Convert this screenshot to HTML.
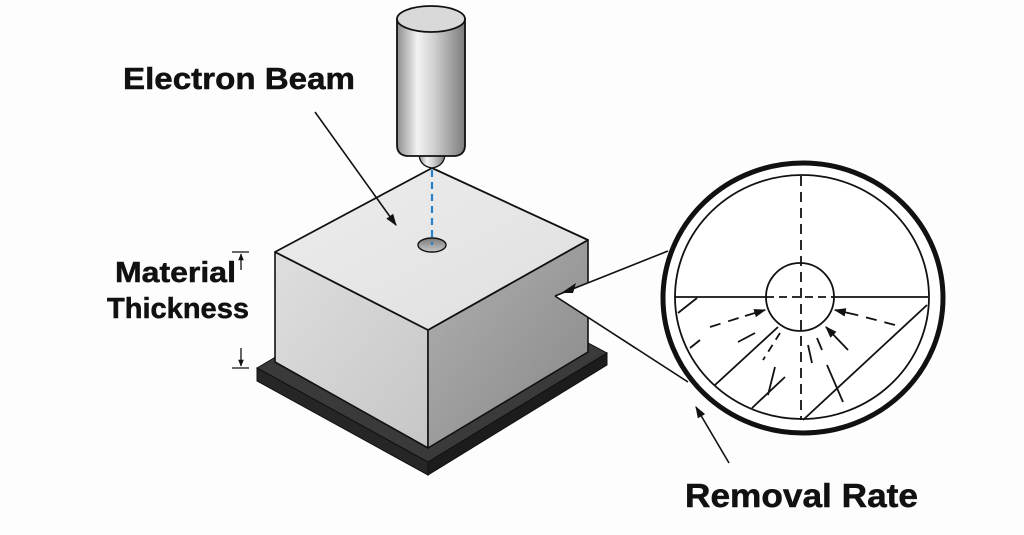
<!DOCTYPE html>
<html><head><meta charset="utf-8"><style>
html,body{margin:0;padding:0;background:#fdfdfd;}
svg{display:block;}
text{font-family:"Liberation Sans",Arial,sans-serif;font-weight:bold;fill:#111;stroke:#111;stroke-width:0.5;}
</style></head><body>
<svg width="1024" height="535" viewBox="0 0 1024 535" xmlns="http://www.w3.org/2000/svg">
<defs>
<linearGradient id="cyl" x1="0" x2="1" y1="0" y2="0">
<stop offset="0" stop-color="#8e8e8e"/><stop offset="0.3" stop-color="#f2f2f2"/><stop offset="0.55" stop-color="#cfcfcf"/><stop offset="1" stop-color="#7c7c7c"/>
</linearGradient>
<linearGradient id="lf" x1="0" x2="1" y1="0" y2="1">
<stop offset="0" stop-color="#dedede"/><stop offset="1" stop-color="#c6c6c6"/>
</linearGradient>
<linearGradient id="rf" x1="0" x2="1" y1="0" y2="1">
<stop offset="0" stop-color="#b0b0b0"/><stop offset="1" stop-color="#888888"/>
</linearGradient>
<linearGradient id="tf" x1="0" x2="1" y1="0" y2="1">
<stop offset="0" stop-color="#ededed"/><stop offset="1" stop-color="#dfdfdf"/>
</linearGradient>
<linearGradient id="hole" x1="0" x2="0" y1="0" y2="1">
<stop offset="0" stop-color="#7a7a7a"/><stop offset="1" stop-color="#c8c8c8"/>
</linearGradient>
<marker id="ah" viewBox="0 0 10 10" refX="9" refY="5" markerWidth="7" markerHeight="7" orient="auto" markerUnits="userSpaceOnUse">
<path d="M0,1 L10,5 L0,9 Z" fill="#111"/>
</marker>
<marker id="ah2" viewBox="0 0 10 10" refX="9" refY="5" markerWidth="12" markerHeight="12" orient="auto" markerUnits="userSpaceOnUse">
<path d="M0,1.5 L10,5 L0,8.5 Z" fill="#111"/>
</marker>
</defs>

<!-- Labels -->
<text x="123" y="89" font-size="31" textLength="232" lengthAdjust="spacingAndGlyphs">Electron Beam</text>
<text x="115" y="282" font-size="29" textLength="121" lengthAdjust="spacingAndGlyphs">Material</text>
<text x="107" y="318" font-size="29" textLength="142" lengthAdjust="spacingAndGlyphs">Thickness</text>
<text x="685" y="507" font-size="33" textLength="233" lengthAdjust="spacingAndGlyphs">Removal Rate</text>

<!-- dimension marks -->
<line x1="232" y1="252" x2="249" y2="252" stroke="#111" stroke-width="1.3"/>
<line x1="241" y1="270" x2="241" y2="254" stroke="#111" stroke-width="1.3" marker-end="url(#ah)"/>
<line x1="241" y1="348" x2="241" y2="366" stroke="#111" stroke-width="1.3" marker-end="url(#ah)"/>
<line x1="232" y1="368" x2="249" y2="368" stroke="#111" stroke-width="1.3"/>

<!-- Plate -->
<polygon points="257,368 436,262 607,353 428,462" fill="#3a3a3a" stroke="#111" stroke-width="1"/>
<polygon points="257,368 428,462 428,475 257,381" fill="#262626" stroke="#111" stroke-width="1"/>
<polygon points="428,462 607,353 607,365 428,475" fill="#1c1c1c" stroke="#111" stroke-width="1"/>

<!-- Block -->
<polygon points="275,252 428,330 428,448 275,362" fill="url(#lf)" stroke="#111" stroke-width="1.6" stroke-linejoin="round"/>
<polygon points="428,330 588,240 588,352 428,448" fill="url(#rf)" stroke="#111" stroke-width="1.6" stroke-linejoin="round"/>
<polygon points="432,168 588,240 428,330 275,252" fill="url(#tf)" stroke="#111" stroke-width="1.8" stroke-linejoin="round"/>

<!-- hole -->
<ellipse cx="432" cy="245" rx="14" ry="7" fill="url(#hole)" stroke="#111" stroke-width="1.4"/>

<!-- beam -->
<line x1="432" y1="170" x2="432" y2="245" stroke="#2a7fc9" stroke-width="2.2" stroke-dasharray="7,5"/>

<!-- Cylinder -->
<path d="M419,153 Q419,166 432,168 Q445,166 445,153 Z" fill="url(#cyl)" stroke="#111" stroke-width="1.3"/>
<path d="M397,19 L397,145 Q397,155 407,156 L455,156 Q465,155 465,145 L465,19 Z" fill="url(#cyl)" stroke="#111" stroke-width="1.8"/>
<ellipse cx="431" cy="19" rx="34" ry="13" fill="#d9d9d9" stroke="#111" stroke-width="1.8"/>

<!-- Electron beam leader -->
<line x1="315" y1="112" x2="396" y2="225" stroke="#111" stroke-width="1.6" marker-end="url(#ah2)"/>

<!-- callout wedge -->
<polygon points="668,251 555,296 688,382" fill="#fdfdfd"/>
<line x1="668" y1="251" x2="555" y2="296" stroke="#111" stroke-width="1.6"/>
<line x1="555" y1="296" x2="688" y2="382" stroke="#111" stroke-width="1.6"/>
<path d="M561,293 L576,283 L573,293 Z" fill="#111"/>

<!-- Magnifier circle -->
<ellipse cx="803" cy="298" rx="140" ry="135" fill="#fff" stroke="#111" stroke-width="5"/>
<ellipse cx="802" cy="297" rx="127" ry="122" fill="none" stroke="#111" stroke-width="1.8"/>

<g stroke="#111" stroke-width="1.8" fill="none">
<line x1="675" y1="297" x2="766" y2="297"/>
<line x1="835" y1="297" x2="928" y2="297"/>
<line x1="766" y1="297" x2="835" y2="297" stroke-dasharray="8,5"/>
<line x1="801" y1="176" x2="801" y2="420" stroke-dasharray="10,6"/>
<circle cx="800" cy="297" r="34"/>
<line x1="678" y1="313" x2="697" y2="298"/>
<line x1="715" y1="385" x2="778" y2="327"/>
<line x1="752" y1="408" x2="785" y2="377"/>
<line x1="803" y1="420" x2="927" y2="305"/>
<line x1="690" y1="348" x2="700" y2="340"/>
<line x1="710" y1="327" x2="745" y2="316" stroke-dasharray="11,8"/>
<line x1="745" y1="316" x2="765" y2="310" marker-end="url(#ah2)"/>
<line x1="895" y1="325" x2="857" y2="315" stroke-dasharray="11,8"/>
<line x1="857" y1="315" x2="835" y2="310" marker-end="url(#ah2)"/>
<line x1="848" y1="350" x2="826" y2="327" marker-end="url(#ah2)"/>
<line x1="738" y1="342" x2="755" y2="333"/>
<line x1="780" y1="333" x2="763" y2="360" stroke-dasharray="8,6"/>
<line x1="775" y1="367" x2="768" y2="395"/>
<line x1="808" y1="345" x2="812" y2="363"/>
<line x1="817" y1="338" x2="822" y2="350"/>
<line x1="827" y1="365" x2="843" y2="402"/>
</g>

<!-- Removal rate arrow -->
<line x1="729" y1="463" x2="696" y2="407" stroke="#111" stroke-width="1.6" marker-end="url(#ah2)"/>
</svg>
</body></html>
